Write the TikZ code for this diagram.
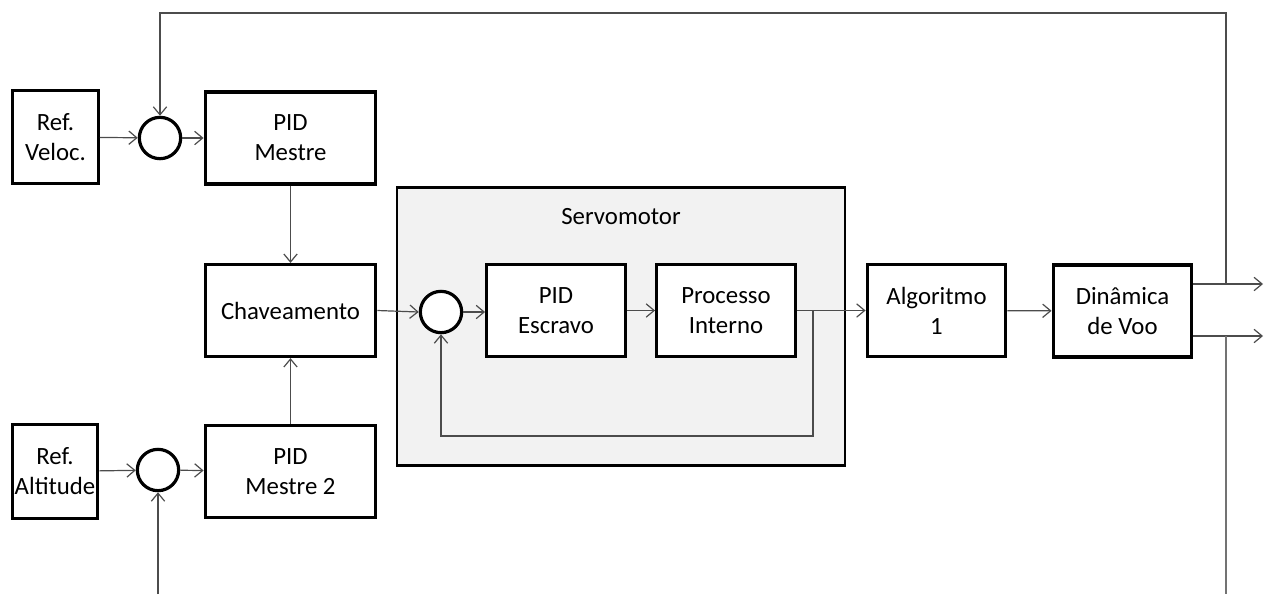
\documentclass[tikz,border=0pt]{standalone}
\usepackage{fontspec}
\setmainfont{Carlito}
\usetikzlibrary{arrows.meta, positioning}

\begin{document}
\begin{tikzpicture}[
    x=0.75pt, y=-0.75pt,
    font=\fontsize{18.6}{22.5}\selectfont,
    block/.style={rectangle, draw=black, line width=2.4pt, fill=white,
                  align=center, inner sep=0pt},
    refbox/.style={block, minimum width=64pt, minimum height=70pt},
    bigbox/.style={block, minimum width=128pt, minimum height=69pt},
    smallbox/.style={block, minimum width=104pt, minimum height=69pt},
    sum/.style={circle, draw=black, line width=2.4pt, fill=white,
                minimum size=31pt, inner sep=0pt},
    servobox/.style={rectangle, draw=black, line width=2.2pt, fill=gray!10,
                     minimum width=336pt, minimum height=208pt},
    arrow/.style={-{Straight Barb[length=6pt, width=10pt]}, line width=0.9pt, black!70},
    line/.style={line width=0.9pt, black!55}
  ]
    \useasboundingbox (0,0) rectangle (1268,594);

    % servomotor frame
    \node[servobox] (servo) at (621,326.5) {};
    \node[below=13pt of servo.north] {Servomotor};

    % blocks
    \node[refbox] (refv) at (55.5,137) {Ref.\\Veloc.};
    \node[refbox] (refa) at (55,471.5) {Ref.\\Altitude};
    \node[sum] (sum1) at (160,138) {};
    \node[sum] (sum2) at (158,470) {};
    \node[bigbox] (pidm) at (290.5,138) {PID\\Mestre};
    \node[bigbox] (chav) at (290.5,310.5) {Chaveamento};
    \node[bigbox] (pidm2) at (290.5,471.5) {PID\\Mestre 2};
    \node[sum] (sum3) at (441,312) {};
    \node[smallbox] (pide) at (556,310.5) {PID\\Escravo};
    \node[smallbox] (proc) at (726,310.5) {Processo\\Interno};
    \node[smallbox] (alg) at (936.5,310.5) {Algoritmo\\1};
    \node[smallbox] (dyn) at (1122.5,311) {Din\^amica\\de Voo};

    % free ends
    \coordinate (tap) at (813,310);
    \coordinate (out1) at (1263,284);
    \coordinate (out2) at (1263,336);
    \coordinate (tapA) at (1226,284);
    \coordinate (tapB) at (1226,336);
    \coordinate (endB) at (1226,594);
    \coordinate (startB) at (158,594);

    % forward path
    \draw[arrow] (refv) -- (sum1);
    \draw[arrow] (sum1) -- (pidm);
    \draw[arrow] (refa) -- (sum2);
    \draw[arrow] (sum2) -- (pidm2);
    \draw[arrow] (pidm) -- (chav);
    \draw[arrow] (pidm2) -- (chav);
    \draw[arrow] (chav.east) -- (sum3.west);
    \draw[arrow] (sum3.east) -- (pide.west |- sum3.east);
    \draw[arrow] (pide) -- (proc);
    \draw[arrow] (proc.east) -- (alg.west);
    \draw[arrow] (alg) -- (dyn);
    \draw[arrow] (dyn.east |- out1) -- (out1);
    \draw[arrow] (dyn.east |- out2) -- (out2);

    % feedback
    \draw[arrow] (tap) -- ++(0,126) -| (sum3.south);
    \draw[arrow] (tapA) -- (tapA |- 0,13) -| (sum1.north);
    \draw[line] (tapB) -- (endB);
    \draw[arrow] (startB) -- (sum2.south);
  \end{tikzpicture}
\end{document}
